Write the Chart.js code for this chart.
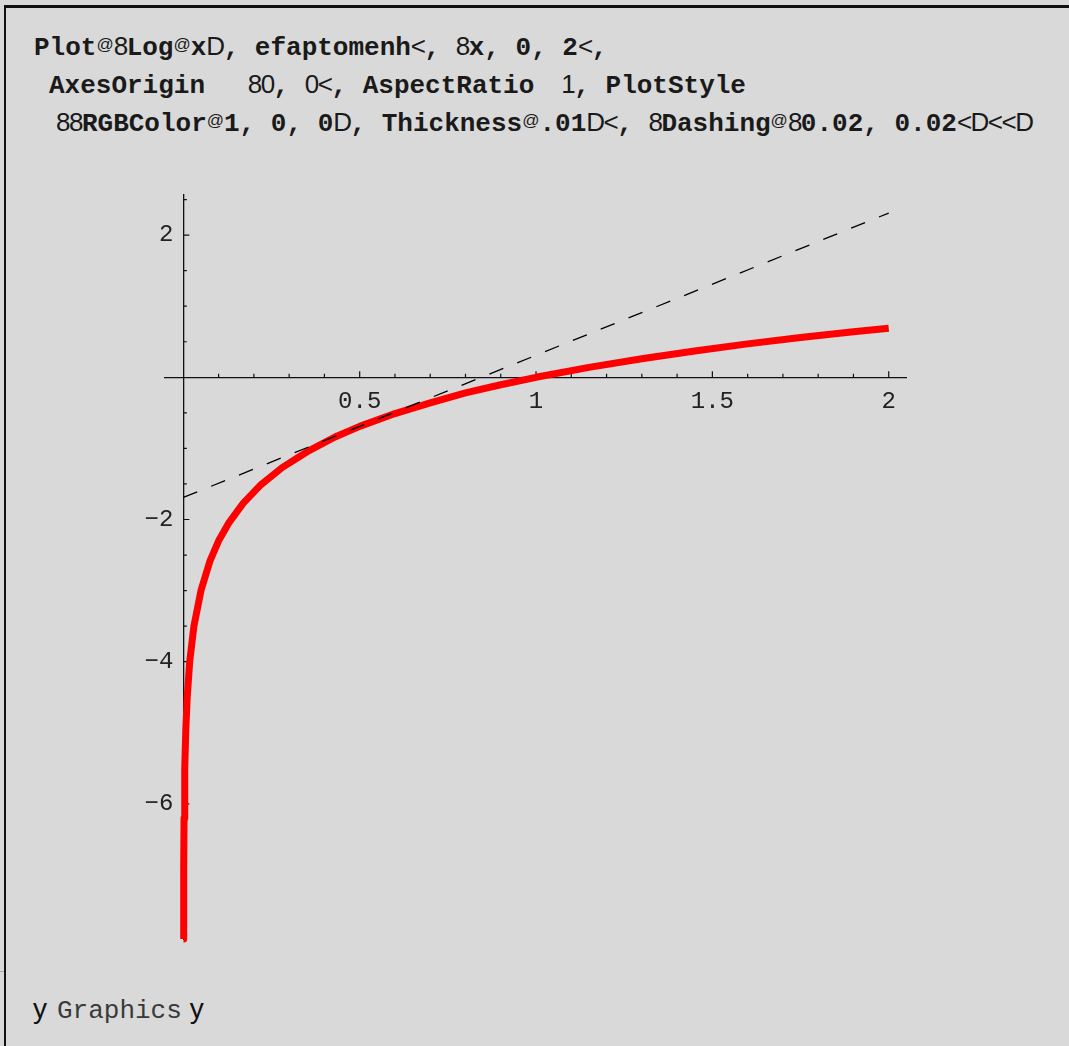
<!DOCTYPE html>
<html>
<head>
<meta charset="utf-8">
<script src="https://cdn.jsdelivr.net/npm/chart.js@4.4.1/dist/chart.umd.min.js"></script>
<style>
  html, body { margin: 0; padding: 0; }
  body { width: 1069px; height: 1046px; background: #d9d9d9; position: relative; overflow: hidden; }
  .edge-top { position: absolute; left: 4px; top: 5px; right: 0; height: 3px; background: #111; }
  .edge-left { position: absolute; left: 4px; top: 5px; width: 2px; bottom: 0; background: #111; }
  .edge-tick { position: absolute; left: 0; top: 971px; width: 4px; height: 1px; background: #aaa; }
  .code { position: absolute; font: bold 26px 'Liberation Mono', monospace; line-height: 30px; height: 30px; color: #1a1a1a; white-space: pre; }
  .code .s { font-family: 'Liberation Sans', sans-serif; font-weight: normal; letter-spacing: -1.5px; }
  .code .a { font-family: 'Liberation Sans', sans-serif; font-weight: normal; font-size: 17px; position: relative; top: -5px; }
  .out { position: absolute; left: 33px; top: 994px; font: 26px 'Liberation Mono', monospace; line-height: 30px; color: #3a3a3a; white-space: pre; }
  .out .s { font-family: 'Liberation Sans', sans-serif; color: #111; font-size: 28px; }
  .out .g { margin: 0 8px 0 10px; }
  #wrap { position: absolute; left: 100px; top: 180px; width: 830px; height: 780px; }
</style>
</head>
<body>
<div class="edge-top"></div>
<div class="edge-left"></div>
<div class="edge-tick"></div>

<div class="code" style="left:34px; top:31px;">Plot<span class="a">@</span><span class="s">8</span>Log<span class="a">@</span>x<span class="s">D</span>, efaptomenh<span class="s">&lt;</span>, <span class="s">8</span>x, 0, 2<span class="s">&lt;</span>,</div>
<div class="code" style="left:49px; top:69px;">AxesOrigin  <span class="s">  80</span>, <span class="s">0&lt;</span>, AspectRatio <span class="s">  1</span>, PlotStyle</div>
<div class="code" style="left:56px; top:107px;"><span class="s">88</span>RGBColor<span class="a">@</span>1, 0, 0<span class="s">D</span>, Thickness<span class="a">@</span>.01<span class="s">D&lt;</span>, <span class="s">8</span>Dashing<span class="a">@</span><span class="s">8</span>0.02, 0.02<span class="s">&lt;D&lt;&lt;D</span></div>

<div class="out"><span class="s">y</span><span class="g">Graphics</span><span class="s">y</span></div>

<div id="wrap"><canvas id="plot" width="830" height="780"></canvas></div>

<script>
// Log[x] sampled along the red curve
const LOG_X = [0.0004, 0.001, 0.002, 0.004, 0.007, 0.011, 0.018, 0.03, 0.05, 0.075, 0.1, 0.13, 0.17, 0.22, 0.28, 0.35, 0.43, 0.5, 0.6, 0.7, 0.8, 0.9, 1.0, 1.15, 1.3, 1.45, 1.6, 1.75, 1.9, 2.0];
const LOG_Y = [-7.9, -6.9, -6.2, -5.5, -4.95, -4.5, -4.0, -3.5, -3.0, -2.59, -2.3, -2.04, -1.77, -1.51, -1.27, -1.05, -0.84, -0.69, -0.51, -0.36, -0.22, -0.105, 0.0, 0.14, 0.26, 0.37, 0.47, 0.56, 0.64, 0.69];

// tangent line (dashed)
const TAN_X = [0, 2];
const TAN_Y = [-1.69, 2.31];

// axis ticks
const X_LABELS = [0.5, 1, 1.5, 2];
const X_MINOR = [0.1, 0.2, 0.3, 0.4, 0.6, 0.7, 0.8, 0.9, 1.1, 1.2, 1.3, 1.4, 1.6, 1.7, 1.8, 1.9];
const Y_LABELS = [-6, -4, -2, 2];
const Y_MINOR = [-7.5, -7, -6.5, -5.5, -5, -4.5, -3.5, -3, -2.5, -1.5, -1, -0.5, 0.5, 1, 1.5, 2.5];

const X_RANGE = [-0.052, 2.049];
const Y_RANGE = [-7.9, 2.564];

const TICK_FONT = "24px 'Liberation Mono', monospace";

const fmt = v => (v < 0 ? '\u2212' + Math.abs(v) : String(v));

// inward tick marks and labels on axes that cross at the origin
const originAxes = {
  id: 'originAxes',
  beforeDatasetsDraw(chart) {
    const { ctx, scales: { x, y } } = chart;
    const x0 = x.getPixelForValue(0);
    const y0 = y.getPixelForValue(0);
    ctx.save();
    ctx.strokeStyle = '#111';
    ctx.lineWidth = 1.2;
    ctx.beginPath();
    X_MINOR.forEach(v => { const px = x.getPixelForValue(v); ctx.moveTo(px, y0); ctx.lineTo(px, y0 - 3.5); });
    X_LABELS.forEach(v => { const px = x.getPixelForValue(v); ctx.moveTo(px, y0); ctx.lineTo(px, y0 - 6); });
    Y_MINOR.forEach(v => { const py = y.getPixelForValue(v); ctx.moveTo(x0, py); ctx.lineTo(x0 + 3.5, py); });
    Y_LABELS.forEach(v => { const py = y.getPixelForValue(v); ctx.moveTo(x0, py); ctx.lineTo(x0 + 6, py); });
    ctx.stroke();

    ctx.fillStyle = '#222';
    ctx.font = TICK_FONT;
    ctx.textBaseline = 'middle';
    ctx.textAlign = 'center';
    X_LABELS.forEach(v => ctx.fillText(fmt(v), x.getPixelForValue(v), y0 + 24));
    ctx.textAlign = 'right';
    Y_LABELS.forEach(v => ctx.fillText(fmt(v), x0 - 10, y.getPixelForValue(v)));
    ctx.restore();
  }
};

const toPoints = (xs, ys) => xs.map((v, i) => ({ x: v, y: ys[i] }));

new Chart(document.getElementById('plot'), {
  type: 'scatter',
  data: {
    datasets: [
      {
        data: toPoints(LOG_X, LOG_Y),
        showLine: true,
        borderColor: '#ff0000',
        borderWidth: 7,
        borderCapStyle: 'butt',
        borderJoinStyle: 'round',
        pointRadius: 0,
        tension: 0,
        clip: false,
        order: 2,
      },
      {
        data: toPoints(TAN_X, TAN_Y),
        showLine: true,
        borderColor: '#000000',
        borderWidth: 1.3,
        borderDash: [15, 15],
        pointRadius: 0,
        clip: false,
        order: 1,
      },
    ],
  },
  options: {
    responsive: false,
    animation: false,
    events: [],
    layout: { padding: { left: 65, top: 15, right: 24, bottom: 21 } },
    plugins: { legend: { display: false }, tooltip: { enabled: false } },
    scales: {
      x: {
        type: 'linear',
        min: X_RANGE[0],
        max: X_RANGE[1],
        position: { y: 0 },
        ticks: { display: false },
        grid: { display: false, drawTicks: false },
        border: { display: true, color: '#111', width: 1.3 },
      },
      y: {
        type: 'linear',
        min: Y_RANGE[0],
        max: Y_RANGE[1],
        position: { x: 0 },
        ticks: { display: false },
        grid: { display: false, drawTicks: false },
        border: { display: true, color: '#111', width: 1.3 },
      },
    },
  },
  plugins: [originAxes],
});
</script>
</body>
</html>
